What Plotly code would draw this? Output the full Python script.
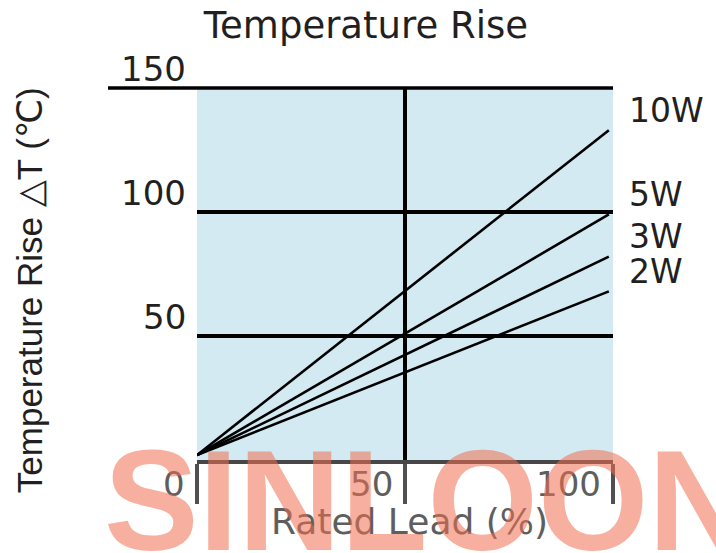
import plotly.graph_objects as go

# ---- data ----
x_pct = [0, 99]
series_names = ["10W", "5W", "3W", "2W"]
series_start = [2, 2, 2, 2]
series_end = [133, 99, 82, 68]
x_ticks = [0, 50, 100]
x_tick_labels = ["0", "50", "100"]
y_ticks = [50, 100, 150]
y_tick_labels = ["50", "100", "150"]

TXT = "#231f20"
GREY = "#5e5e5e"
FONT = "DejaVu Sans"

fig = go.Figure()
for name, y0, y1 in zip(series_names, series_start, series_end):
    fig.add_trace(go.Scatter(x=x_pct, y=[y0, y1], mode="lines", name=name,
                             line=dict(color="#000000", width=2.6),
                             showlegend=False, hoverinfo="skip"))

annotations = []
# series labels at the right
for name, y1 in zip(series_names, series_end):
    annotations.append(dict(xref="x domain", x=1, yref="y", y=y1, xshift=14, yshift=20,
                            text=name, showarrow=False, xanchor="left", yanchor="middle",
                            font=dict(family=FONT, size=33, color=TXT)))
# y tick labels (above their grid lines)
for v, lab in zip(y_ticks, y_tick_labels):
    annotations.append(dict(xref="x domain", x=0, yref="y", y=v, xshift=-9, yshift=19,
                            text=lab, showarrow=False, xanchor="right", yanchor="middle",
                            font=dict(family=FONT, size=34, color=TXT)))
# x tick labels (left of their tick lines)
for v, lab in zip(x_ticks, x_tick_labels):
    annotations.append(dict(xref="x", x=v, yref="y domain", y=0, xshift=-10, yshift=-24,
                            text=lab, showarrow=False, xanchor="right", yanchor="middle",
                            font=dict(family=FONT, size=34, color=GREY)))
# axis titles
annotations.append(dict(xref="x domain", x=0.512, yref="y domain", y=0, yshift=-61,
                        text="Rated Lead (%)", showarrow=False, xanchor="center", yanchor="middle",
                        font=dict(family=FONT, size=36, color=GREY)))
annotations.append(dict(xref="x domain", x=-0.401, yref="y domain", y=0.457,
                        text="Temperature Rise △T (℃)", showarrow=False, textangle=-90,
                        xanchor="center", yanchor="middle",
                        font=dict(family="Liberation Sans Narrow, Liberation Sans", size=35, color=TXT)))
# watermark
annotations.append(dict(xref="x domain", x=0.555, yref="y domain", y=0, yshift=-40,
                        text="<b>SINLOON</b>", showarrow=False, xanchor="center", yanchor="middle",
                        font=dict(family="Liberation Sans", size=142, color="rgba(240,112,80,0.55)")))

shapes = [
    # top frame line extending left past the axis
    dict(type="line", xref="x domain", yref="y domain", x0=-0.214, x1=1.0, y0=1, y1=1,
         line=dict(color="#000000", width=3.5), layer="above"),
]

fig.update_layout(
    width=716, height=553,
    margin=dict(l=197, r=103, t=88, b=93),
    paper_bgcolor="white", plot_bgcolor="#d3eaf2",
    title=dict(text="Temperature Rise", x=0.511, xanchor="center", y=1 - 25 / 553, yanchor="middle",
               font=dict(family=FONT, size=37, color=TXT)),
    xaxis=dict(range=[0, 100], tickvals=x_ticks, showticklabels=False,
               showgrid=True, gridcolor="#000000", gridwidth=3.5,
               ticks="outside", ticklen=40, tickwidth=3.5, tickcolor="#505050",
               showline=True, linecolor="#474747", linewidth=3.5, zeroline=False,
               fixedrange=True),
    yaxis=dict(range=[0, 150], tickvals=y_ticks, showticklabels=False,
               showgrid=True, gridcolor="#000000", gridwidth=3.5, ticks="",
               showline=False, zeroline=False, fixedrange=True),
    annotations=annotations,
    shapes=shapes,
)

fig.write_html("out.html", config={"displayModeBar": False},
               post_script="document.body.style.margin='0';")
